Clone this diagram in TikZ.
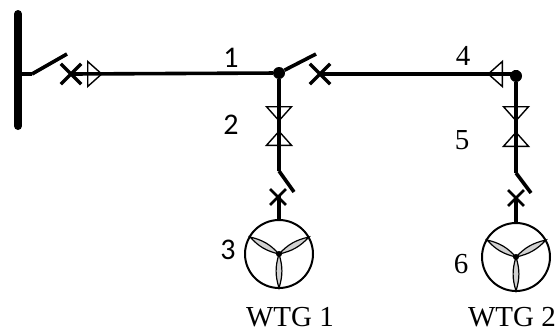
\documentclass[tikz,border=0pt]{standalone}
\usepackage{fontspec}
\setmainfont{Liberation Serif}
\newfontfamily\calfont{Carlito}
\usetikzlibrary{shapes.geometric,shapes.misc}
\tikzstyle{dotnode}=[circle,fill=black,minimum size=12pt,inner sep=0pt]
\tikzstyle{hubnode}=[circle,fill=black,minimum size=6pt,inner sep=0pt]
\tikzstyle{point}=[coordinate]
\tikzstyle{edge} = [draw,line width=3.6pt,-,line join=round]
\tikzstyle{busbar} = [draw,line width=8pt,line cap=round]
\tikzstyle{breaker} = [draw,cross out,line width=3.4pt,minimum size=17pt,inner sep=0pt]
\tikzstyle{smallbreaker} = [draw,cross out,line width=2.8pt,minimum size=13pt,inner sep=0pt]
\tikzstyle{ct} = [draw,line width=1.4pt,isosceles triangle,isosceles triangle stretches,minimum width=25pt,minimum height=14pt,inner sep=0pt,anchor=lower side]
\tikzstyle{rotor} = [draw,circle,line width=2pt,minimum size=68pt,inner sep=0pt]
\tikzstyle{blade} = [draw,line width=1.2pt,fill=black!18]
\tikzstyle{sanslabel} = [font=\calfont\fontsize{30}{30}\selectfont]
\tikzstyle{seriflabel} = [font=\fontsize{29}{29}\selectfont]

\begin{document}
\begin{tikzpicture}[x=1pt,y=-1pt]
    \useasboundingbox (0,0) rectangle (556,332);
    % First the junctions and the rotors
    \node[dotnode] (juna) at (279,73) {};
    \node[dotnode] (junb) at (516,76) {};
    \node[rotor] (wtga) at (279,254) {};
    \node[rotor] (wtgb) at (516,257) {};
    % Then the points of the lines
    \foreach \pos/\name in {{(18,14)/bustop}, {(18,126)/busend}, {(18,74)/tapa}, {(32,74)/hingea}, {(67,54)/bladea},
        {(72,74)/feeda}, {(316,54)/bladeb}, {(320,74)/feedb}, {(279,171)/hingec}, {(294,192)/bladec},
        {(279,196)/feedc}, {(516,173)/hinged}, {(531,193)/bladed}, {(516,198)/feedd},
        {(250,237)/tipal}, {(309,237)/tipar}, {(279,288)/tipad}, {(487,240)/tipbl}, {(546,240)/tipbr}, {(516,291)/tipbd}}
        \node[point] (\name) at \pos {};
    % Connect them
    \path[busbar] (bustop) -- (busend);
    \foreach \source/\dest in {tapa/hingea,hingea/bladea,feeda/juna,juna/bladeb,juna/hingec,hingec/bladec,
        junb/hinged,hinged/bladed}
        \path[edge] (\source) -- (\dest);
    \path[edge] (feedb) -- (feedb -| junb) -- (junb);
    \path[edge] (feedc) -- (wtga);
    \path[edge] (feedd) -- (wtgb);
    % Breakers and current transformers
    \foreach \pos/\name in {{(71,74)/cba}, {(320,74)/cbb}}
        \node[breaker] (\name) at \pos {};
    \foreach \pos/\name in {{(278,197)/cbc}, {(516,198)/cbd}}
        \node[smallbreaker] (\name) at \pos {};
    \node[ct,shape border rotate=0] (cta) at (87,74) {};
    \node[ct,shape border rotate=180] (ctb) at (503,74) {};
    \foreach \pos/\name/\rot in {{(279,106)/ctc/-90}, {(279,146)/ctd/90}, {(516,106)/cte/-90}, {(516,147)/ctf/90}}
        \node[ct,shape border rotate=\rot] (\name) at \pos {};
    % Turbine blades
    \foreach \hub/\tip in {wtga/tipal,wtga/tipar,wtga/tipad,wtgb/tipbl,wtgb/tipbr,wtgb/tipbd}
        \path[blade] (\hub.center) to[bend left=17] (\tip) to[bend left=17] (\hub.center);
    \foreach \hub/\name in {wtga/huba,wtgb/hubb}
        \node[hubnode] (\name) at (\hub) {};
    % Labels
    \foreach \pos/\name/\txt in {{(231,58)/laba/1}, {(231,125)/labb/2}, {(228,250)/labc/3}}
        \node[sanslabel] (\name) at \pos {\txt};
    \foreach \pos/\name/\txt in {{(463,56)/labd/4}, {(462,140)/labe/5}, {(461,264)/labf/6}, {(290,317)/namea/WTG 1}, {(512,317)/nameb/WTG 2}}
        \node[seriflabel] (\name) at \pos {\txt};
\end{tikzpicture}
\end{document}
